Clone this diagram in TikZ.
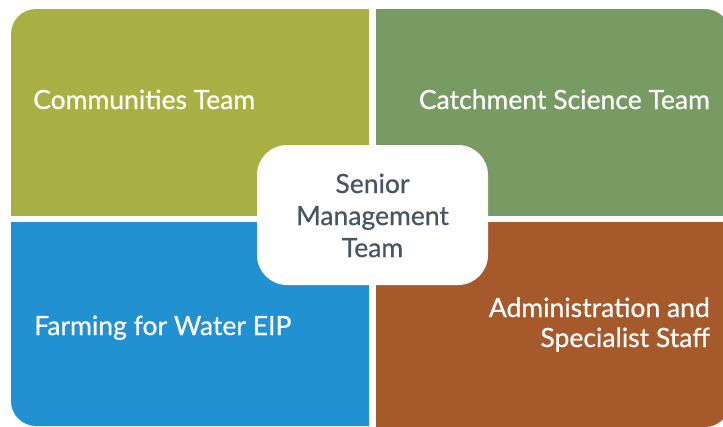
\documentclass[tikz,border=0pt]{standalone}
\usepackage{fontspec}
\setmainfont{Lato}[FakeBold=0.6]
\definecolor{cOlive}{HTML}{A9B043}
\definecolor{cSage}{HTML}{789B63}
\definecolor{cBlue}{HTML}{2291D1}
\definecolor{cRust}{HTML}{A6592A}
\definecolor{cSlate}{HTML}{4A5564}
\tikzset{
  quadlabel/.style={text=white, font=\fontsize{26.5}{30}\selectfont, inner sep=0pt},
  centrebox/.style={fill=white, rounded corners=30pt, inner sep=0pt},
  centretext/.style={text=cSlate, font=\fontsize{26.5}{32}\selectfont, align=center, inner sep=0pt}
}
\begin{document}
\begin{tikzpicture}[x=1pt,y=-1pt]
\useasboundingbox (0,0) rectangle (723,426);
\fill[white] (0,0) rectangle (723,426);
\begin{scope}
  \clip (0,0) rectangle (369,215);
  \fill[cOlive, rounded corners=25pt] (11,9) rectangle (800,800);
\end{scope}
\begin{scope}
  \clip (376,0) rectangle (723,215);
  \fill[cSage, rounded corners=25pt] (-100,9) rectangle (730,800);
\end{scope}
\begin{scope}
  \clip (0,222) rectangle (369,426);
  \fill[cBlue, rounded corners=25pt] (11,-100) rectangle (800,426);
\end{scope}
\begin{scope}
  \clip (376,222) rectangle (723,426);
  \fill[cRust, rounded corners=25pt] (-100,-100) rectangle (730,427);
\end{scope}
\node[quadlabel, anchor=base west] (comm) at (33,109) {Communities Team};
\node[quadlabel, anchor=base east] (catch) at (710,109) {Catchment Science Team};
\node[quadlabel, anchor=base west] (farm) at (34,335) {Farming for Water EIP};
\node[quadlabel, anchor=base east, align=right] (admin) at (710,347) {Administration and\\Specialist Staff};
\fill[centrebox] (257,145) rectangle (488,285);
\node[centretext, anchor=base] (smt) at (372.5,257) {Senior\\Management\\Team};
\end{tikzpicture}
\end{document}
